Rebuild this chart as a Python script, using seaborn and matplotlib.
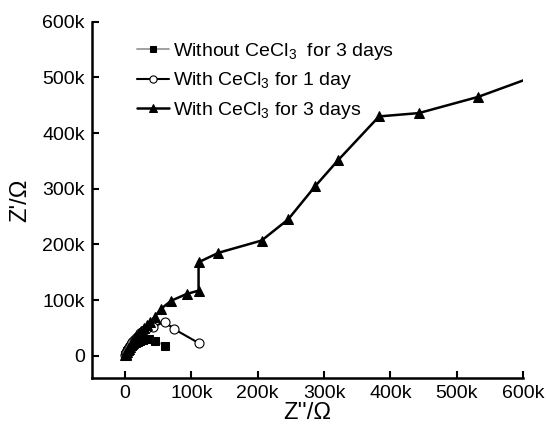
import matplotlib
matplotlib.use('Agg')
import matplotlib.pyplot as plt
import seaborn as sns
from matplotlib.ticker import FuncFormatter

# values in ohms
sq_x = [500, 1000, 1500, 2500, 3500, 5000, 6500, 8000, 10000, 12000, 14000, 17000,
        20000, 23000, 27000, 31000, 36000, 45000, 61000]
sq_y = [500, 2000, 4000, 6000, 8000, 10500, 13000, 15000, 17500, 19500, 21500, 23500,
        25500, 27000, 28500, 29500, 30000, 27000, 18000]

ci_x = [500, 1000, 2000, 3000, 4000, 5500, 7000, 9000, 11000, 13500, 16000, 19000,
        22000, 27000, 32000, 43000, 60000, 74000, 111000]
ci_y = [1000, 3000, 6000, 9000, 12000, 15000, 18000, 21500, 25000, 28500, 32000, 36000,
        40000, 44000, 48000, 52000, 61000, 48000, 23000]

tr_x = [500, 1000, 2000, 3000, 4000, 5500, 7000, 9000, 11000, 13000, 15500, 18000,
        21000, 24500, 28500, 33000, 38000, 45000, 54000, 70000, 93000, 111000, 111000,
        141000, 206000, 246000, 287000, 321000, 383000, 443000, 532000, 640000]
tr_y = [500, 2000, 4000, 7000, 10000, 13000, 16000, 20000, 24000, 28000, 32000, 36000,
        40000, 45000, 50000, 55000, 61000, 70000, 84000, 99000, 111000, 117000, 168000,
        185000, 207000, 245000, 305000, 351000, 430000, 436000, 465000, 512000]

labels = ['Without CeCl$_3$  for 3 days', 'With CeCl$_3$ for 1 day', 'With CeCl$_3$ for 3 days']

sns.set_style('white')
plt.rcParams['font.family'] = ['Liberation Sans', 'DejaVu Sans']
plt.rcParams['mathtext.fontset'] = 'custom'
plt.rcParams['mathtext.rm'] = 'Liberation Sans'
plt.rcParams['mathtext.default'] = 'regular'
plt.rcParams['text.color'] = 'black'
plt.rcParams['axes.labelcolor'] = 'black'
plt.rcParams['xtick.color'] = 'black'
plt.rcParams['ytick.color'] = 'black'

fig = plt.figure(figsize=(5.46, 4.36), dpi=100)
ax = fig.add_axes([0.168, 0.133, 0.79, 0.817])

sns.lineplot(x=sq_x, y=sq_y, sort=False, estimator=None, ax=ax, color='#999999', lw=1.3,
             marker='s', markersize=5.5, markerfacecolor='black', markeredgecolor='black',
             label=labels[0])
sns.lineplot(x=ci_x, y=ci_y, sort=False, estimator=None, ax=ax, color='black', lw=1.5,
             marker='o', markersize=6.5, markerfacecolor='white', markeredgecolor='black',
             markeredgewidth=0.8, label=labels[1])
sns.lineplot(x=tr_x, y=tr_y, sort=False, estimator=None, ax=ax, color='black', lw=1.8,
             marker='^', markersize=7, markerfacecolor='black', markeredgecolor='black',
             label=labels[2])

ax.set_xlim(-50000, 600000)
ax.set_ylim(-40000, 600000)
ax.set_xticks(range(0, 600001, 100000))
ax.set_yticks(range(0, 600001, 100000))
fmt = FuncFormatter(lambda v, p: '0' if v == 0 else f'{int(v / 1000)}k')
ax.xaxis.set_major_formatter(fmt)
ax.yaxis.set_major_formatter(fmt)
ax.tick_params(direction='in', length=5, width=1.5, labelsize=14, pad=5,
               bottom=True, left=True)
for s in ['top', 'right']:
    ax.spines[s].set_visible(False)
for s in ['left', 'bottom']:
    ax.spines[s].set_linewidth(1.8)
    ax.spines[s].set_color('black')

ax.set_xlabel("Z''/\u03a9", fontsize=17, labelpad=0)
ax.set_ylabel("Z'/\u03a9", fontsize=17, labelpad=8)

ax.legend(loc='upper left', bbox_to_anchor=(0.078, 0.98), frameon=False, fontsize=14,
          handlelength=1.65, handletextpad=0.2, labelspacing=0.45, numpoints=1,
          markerscale=0.8, borderaxespad=0.2)

fig.savefig('out.png', dpi=100)
